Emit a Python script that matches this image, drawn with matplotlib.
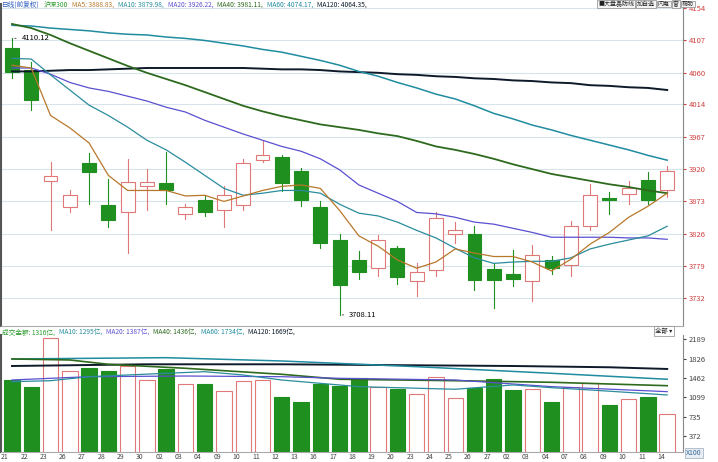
import matplotlib
matplotlib.use("Agg")
import matplotlib.pyplot as plt
import numpy as np

plt.rcParams['font.family'] = ['Noto Sans CJK SC', 'DejaVu Sans']

dates = ["21","22","23","26","27","28","29","30","02","03","04","09","10","11","12","13","16","17",
         "18","19","20","23","24","25","26","27","02","03","04","07","08","09","10","11","14"]
opens = [4096,4064,3903,3865,3929,3868,3857,3895,3900,3855,3875,3860,3868,3933,3937,3918,3865,3817,
         3788,3776,3805,3758,3773,3826,3826,3775,3768,3758,3788,3780,3837,3878,3884,3904,3889]
closes = [4061,4020,3910,3882,3916,3846,3901,3901,3890,3865,3857,3882,3929,3940,3900,3875,3813,3751,
          3770,3817,3763,3770,3849,3831,3759,3759,3761,3795,3776,3837,3882,3875,3892,3875,3918]
highs = [4110.12,4075,3930,3890,3944,3905,3935,3920,3945,3870,3882,3896,3934,3961,3941,3922,3874,3825,
         3801,3824,3808,3784,3857,3843,3837,3784,3802,3809,3794,3844,3898,3887,3903,3916,3925]
lows = [4052,4006,3831,3857,3870,3836,3798,3860,3870,3848,3852,3836,3860,3930,3888,3866,3806,3708.11,
        3761,3765,3753,3735,3765,3813,3744,3718,3750,3729,3767,3765,3832,3855,3870,3870,3880]
volume = [1425,1300,2209,1594,1651,1589,1688,1425,1626,1350,1350,1219,1407,1425,1112,1018,1350,1313,
          1457,1300,1262,1157,1487,1093,1281,1450,1232,1256,1018,1288,1375,950,1063,1112,781]

ma5 = [4071,4067,3998,3980,3958,3911,3889,3889,3889,3881,3882,3873,3881,3889,3895,3897,3892,3860,
       3823,3808,3788,3776,3785,3804,3798,3793,3793,3785,3772,3789,3811,3828,3850,3866,3885]
ma10 = [4081,4080,4057,4035,4013,3998,3981,3962,3948,3930,3911,3892,3882,3885,3889,3889,3885,3869,
        3856,3852,3843,3831,3820,3805,3791,3783,3785,3786,3786,3791,3804,3811,3817,3823,3837]
ma20 = [4067,4067,4058,4046,4038,4033,4026,4019,4010,4003,3991,3981,3971,3962,3953,3946,3935,3919,
        3897,3885,3873,3857,3855,3850,3843,3840,3834,3828,3821,3821,3821,3821,3820,3820,3818]
ma40 = [4131,4125,4115,4103,4092,4081,4070,4060,4051,4042,4032,4022,4012,4004,3997,3991,3985,3981,
        3977,3972,3968,3961,3953,3948,3942,3935,3927,3920,3913,3908,3903,3898,3894,3889,3885]
ma60 = [4129,4128,4125,4123,4121,4118,4116,4115,4112,4110,4107,4103,4099,4094,4090,4084,4078,4071,
        4062,4055,4046,4038,4029,4022,4012,4001,3993,3984,3977,3969,3962,3955,3948,3940,3933]
ma120 = [4062,4062,4063,4064,4064,4065,4066,4067,4067,4067,4067,4067,4067,4066,4065,4065,4064,4062,
         4061,4060,4058,4057,4055,4054,4052,4051,4049,4048,4046,4045,4042,4041,4039,4038,4035]

vma120_i = [0,7,14,21,26,31,34]; vma120 = [1688,1720,1720,1701,1688,1664,1632]
vma60_i = [0,8,14,21,28,34]; vma60 = [1820,1844,1782,1675,1551,1439]
vma40_i = [0,3,5,9,14,17,23,28,34]; vma40 = [1820,1801,1720,1645,1532,1439,1412,1382,1318]
vma20_i = [0,2,4,9,14,17,23,28,34]; vma20 = [1425,1457,1487,1500,1487,1457,1425,1300,1206]
vma10_i = [0,2,4,8,10,12,14,18,23,26,28,30,34]; vma10 = [1394,1412,1487,1551,1581,1519,1425,1300,1251,1332,1281,1238,1144]

price_ticks = [4154,4107,4060,4014,3967,3920,3873,3826,3779,3732]
vol_ticks = [2189,1826,1462,1099,735,372]

GREEN = "#1f8f1f"; RED = "#e07878"
C5 = "#b8782a"; C10 = "#2a8c9c"; C20 = "#5a50d0"; C40 = "#2e6a1e"; C60 = "#1f8ca0"; C120 = "#0e1a2a"

W, H = 718, 462
fig = plt.figure(figsize=(W/100, H/100), dpi=100)
def box(l, t, r, b):
    return [l/W, 1-b/H, (r-l)/W, (b-t)/H]

x = np.arange(len(dates))
ax = fig.add_axes(box(1, 4, 683, 326))
ax2 = fig.add_axes(box(1, 335, 683, 452))

for a in (ax, ax2):
    a.set_xlim(-0.57, 34.82)
    a.yaxis.tick_right()
    a.tick_params(axis='y', length=2, labelsize=5.5, pad=2)
    a.set_xticks([])
    a.spines['top'].set_visible(False)
    a.spines['left'].set_color('#555555'); a.spines['left'].set_linewidth(1.5)
    a.spines['right'].set_color('#888888'); a.spines['bottom'].set_color('#aaaaaa')

ax.set_ylim(3692, 4160)
ax.set_yticks(price_ticks)
ax.tick_params(axis='y', labelcolor='#d04040', colors='#d04040')
ax.grid(axis='y', color='#d8e4ec', lw=0.8)
ax.set_axisbelow(True)

for i in x:
    o, c, h, l = opens[i], closes[i], highs[i], lows[i]
    up = c >= o
    col = RED if up else GREEN
    lo_b, hi_b = min(o, c), max(o, c)
    ax.plot([i, i], [hi_b, h], color=col, lw=0.8, zorder=2)
    ax.plot([i, i], [l, lo_b], color=col, lw=0.8, zorder=2)
    if up:
        ax.bar(i, hi_b-lo_b, bottom=lo_b, width=0.72, facecolor='white', edgecolor=RED, lw=0.8, zorder=3)
    else:
        ax.bar(i, hi_b-lo_b, bottom=lo_b, width=0.72, facecolor=GREEN, edgecolor=GREEN, lw=0.8, zorder=3)

for vals, col, lw in [(ma120, C120, 1.4), (ma60, C60, 1.1), (ma40, C40, 1.3), (ma20, C20, 0.9), (ma10, C10, 0.9), (ma5, C5, 0.9)]:
    ax.plot(x, vals, color=col, lw=lw, zorder=4)

ax.annotate("4110.12", xy=(0, highs[0]), xytext=(0.5, highs[0]), fontsize=5.5, va='center',
            arrowprops=dict(arrowstyle='-', color='#333333', lw=0.6))
ax.annotate("3708.11", xy=(17, lows[17]), xytext=(17.5, lows[17]), fontsize=5.5, va='center',
            arrowprops=dict(arrowstyle='-', color='#333333', lw=0.6))

ax2.set_ylim(73, 2270)
ax2.set_yticks(vol_ticks)
ax2.tick_params(axis='y', labelcolor='#444444', colors='#444444')
for i in x:
    up = closes[i] >= opens[i]
    if up:
        ax2.bar(i, volume[i], width=0.8, facecolor='white', edgecolor=RED, lw=0.8, zorder=2)
    else:
        ax2.bar(i, volume[i], width=0.8, facecolor=GREEN, edgecolor=GREEN, lw=0.8, zorder=2)
for xi, vals, col, lw in [(vma120_i, vma120, C120, 1.4), (vma60_i, vma60, C60, 1.1), (vma40_i, vma40, C40, 1.2),
                          (vma20_i, vma20, C20, 0.9), (vma10_i, vma10, C10, 0.9)]:
    ax2.plot(xi, vals, color=col, lw=lw, zorder=3)

for i, d in enumerate(dates):
    fig.text((11 + 19.3*i - 10)/W, 1-457/H, d, fontsize=5, color='#444444', ha='left', va='center')
fig.text(686/W, 1-453/H, "X100", fontsize=5, color='#336699', va='center',
         bbox=dict(boxstyle='square,pad=0.15', fc='#e8eef4', ec='#99aabb', lw=0.5))

fig.canvas.draw()
renderer = fig.canvas.get_renderer()

def header(items, y, xstart=2, gap=4, fs=4.8, **kw):
    xx = xstart
    for t, c in items:
        tx = fig.text(xx/W, 1-y/H, t, fontsize=fs, color=c, va='center', **kw)
        bb = tx.get_window_extent(renderer)
        xx += bb.width + gap
    return xx

header([("日线(前复权)", "#3060c0"), ("沪深300", "#2a9a2a"), ("MA5: 3888.83,", C5), ("MA10: 3879.98,", C10),
        ("MA20: 3926.22,", C20), ("MA40: 3981.11,", C40), ("MA60: 4074.17,", C60), ("MA120: 4064.35,", C120)], 5)
header([("成交金额: 1316亿,", "#2a9a2a"), ("MA10: 1295亿,", C10), ("MA20: 1387亿,", C20), ("MA40: 1436亿,", C40),
        ("MA60: 1734亿,", C60), ("MA120: 1669亿,", C120)], 333)

header([("■大盘晶防线", "#222222"), ("加自选", "#222222"), ("闪电", "#222222"), ("窗", "#222222"), ("帮助", "#222222")],
       4, xstart=598, gap=3, fs=4.3, bbox=dict(boxstyle='square,pad=0.15', fc='#f4f4f4', ec='#888888', lw=0.5))
fig.text(655/W, 1-331/H, "全部 ▾", fontsize=4.6, color='#222222', va='center',
         bbox=dict(boxstyle='square,pad=0.2', fc='white', ec='#888888', lw=0.5))

fig.savefig("out.png", dpi=100)
